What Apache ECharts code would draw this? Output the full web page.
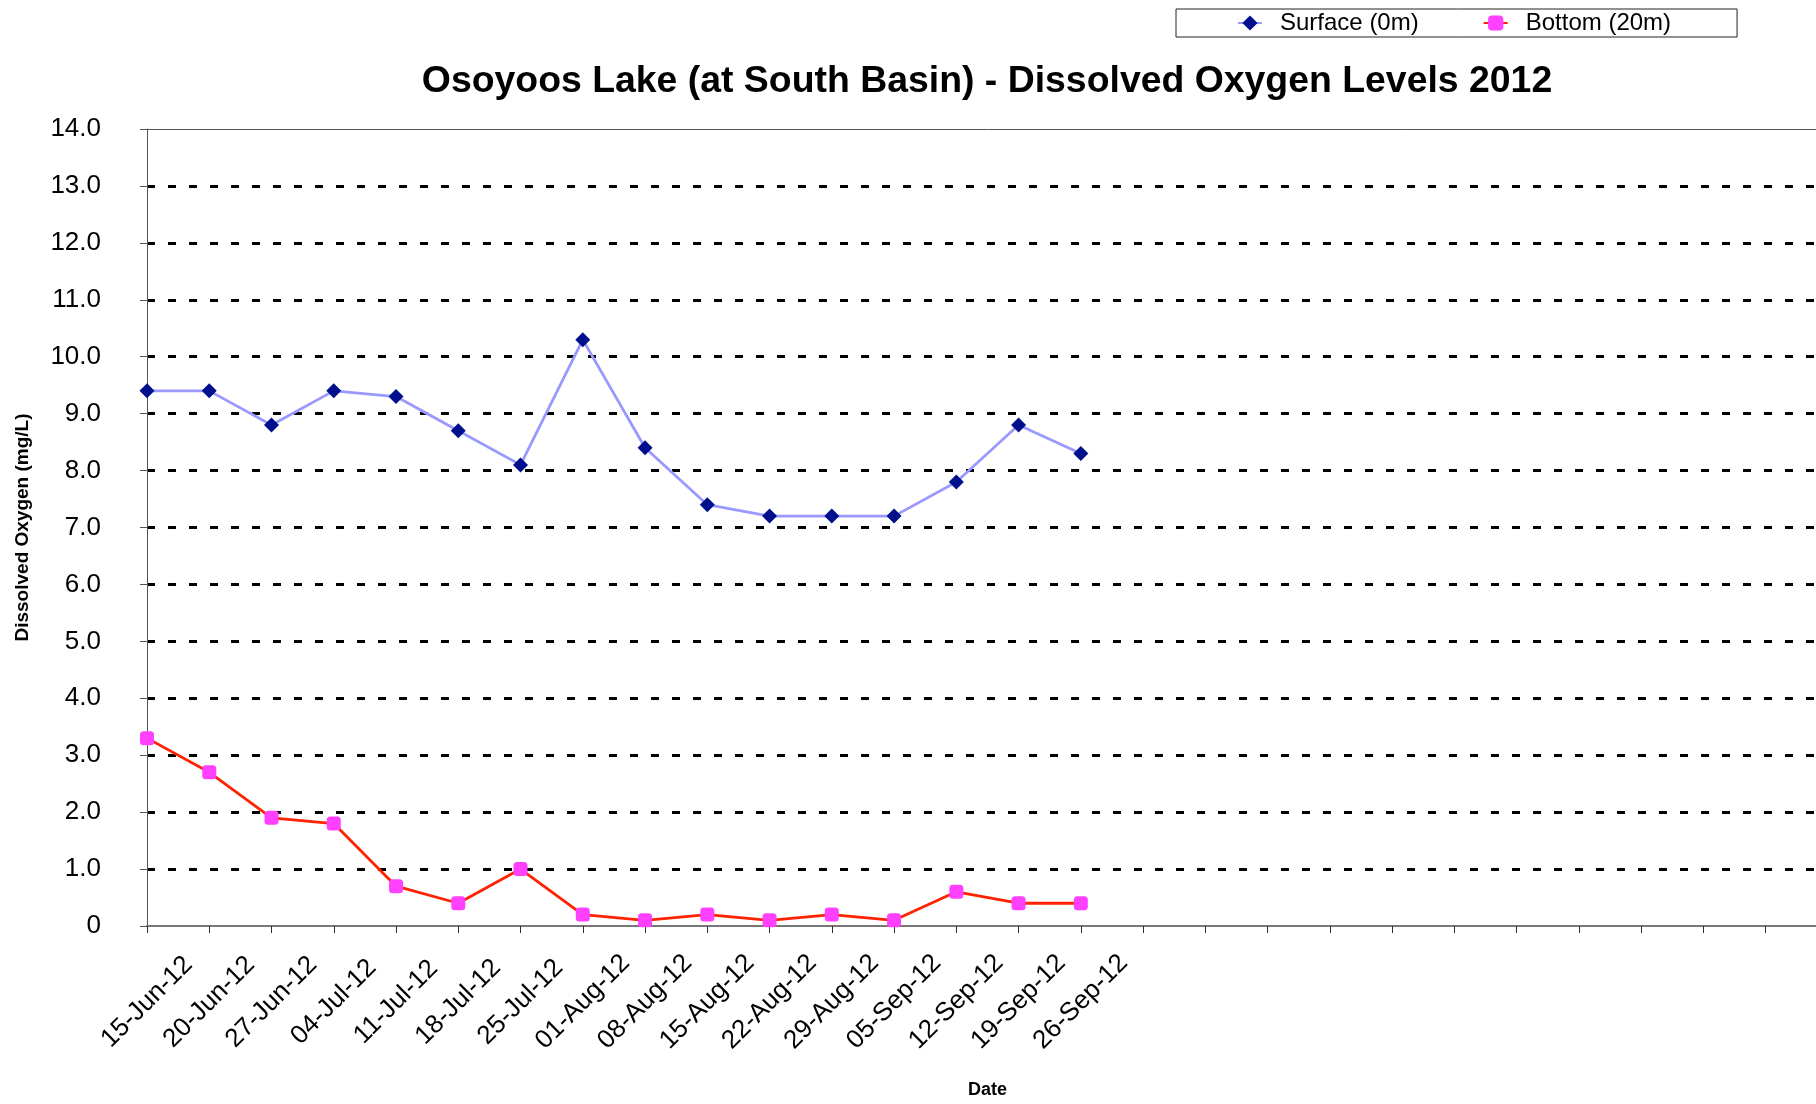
<!DOCTYPE html>
<html>
<head>
<meta charset="utf-8">
<title>Osoyoos Lake - Dissolved Oxygen 2012</title>
<script src="https://cdn.jsdelivr.net/npm/echarts@6/dist/echarts.min.js"></script>
<style>
  html, body { margin: 0; padding: 0; background: #fff; overflow: hidden; }
  /* plot runs past the right edge of the window, like the original */
  #do-chart { width: 1830px; height: 1104px; }
</style>
</head>
<body>
<div id="do-chart"></div>
<script>
  // sampling dates (first 16 carry data), then empty slots to the edge
  var dates = ['15-Jun-12', '20-Jun-12', '27-Jun-12', '04-Jul-12', '11-Jul-12', '18-Jul-12',
    '25-Jul-12', '01-Aug-12', '08-Aug-12', '15-Aug-12', '22-Aug-12', '29-Aug-12',
    '05-Sep-12', '12-Sep-12', '19-Sep-12', '26-Sep-12']
  var emptySlots = 12
  var surfaceDO = [9.4, 9.4, 8.8, 9.4, 9.3, 8.7, 8.1, 10.3, 8.4, 7.4, 7.2, 7.2, 7.2, 7.8, 8.8, 8.3]
  var bottomDO = [3.3, 2.7, 1.9, 1.8, 0.7, 0.4, 1.0, 0.2, 0.1, 0.2, 0.1, 0.2, 0.1, 0.6, 0.4, 0.4]

  var fontName = '"Liberation Sans", Arial, sans-serif'

  var categories = dates.slice()
  for (var i = 0; i < emptySlots; i++) {
    categories.push('')
  }

  var chart = echarts.init(document.getElementById('do-chart'))

  var option = {
    backgroundColor: '#fff',
    animation: false,
    textStyle: { fontFamily: fontName },
    title: {
      text: 'Osoyoos Lake (at South Basin) - Dissolved Oxygen Levels 2012',
      left: 982,
      top: 58,
      textAlign: 'center',
      textStyle: { fontFamily: fontName, fontSize: 37.4, fontWeight: 'bold', color: '#000' }
    },
    legend: {
      left: 1176,
      top: 9,
      padding: [2, 66, 2, 61],
      itemGap: 64,
      itemWidth: 24,
      itemHeight: 19,
      borderColor: '#222',
      borderWidth: 1,
      textStyle: { fontFamily: fontName, fontSize: 24, color: '#000', padding: [0, 0, 0, 13] },
      data: ['Surface (0m)', 'Bottom (20m)']
    },
    grid: {
      left: 147,
      right: 2,
      top: 129,
      bottom: 175
    },
    xAxis: [
      {
        type: 'category',
        data: categories,
        boundaryGap: false,
        name: 'Date',
        nameLocation: 'middle',
        nameGap: 155,
        nameTextStyle: { fontFamily: fontName, fontSize: 18, fontWeight: 'bold', color: '#000' },
        axisLine: { lineStyle: { color: '#777', width: 2 } },
        axisTick: { show: true, interval: 0, length: 7, lineStyle: { color: '#333' } },
        axisLabel: {
          interval: 0,
          rotate: 45,
          align: 'center',
          verticalAlign: 'middle',
          margin: 76,
          fontSize: 26,
          color: '#000',
          fontFamily: fontName
        },
        splitLine: { show: false }
      },
      {
        // plain top border of the plot area
        type: 'category',
        position: 'top',
        data: categories,
        boundaryGap: false,
        axisLine: { lineStyle: { color: '#555', width: 1 } },
        axisTick: { show: false },
        axisLabel: { show: false },
        splitLine: { show: false }
      }
    ],
    yAxis: {
      type: 'value',
      min: 0,
      max: 14,
      interval: 1,
      name: 'Dissolved Oxygen (mg/L)',
      nameLocation: 'middle',
      nameGap: 115,
      nameTextStyle: { fontFamily: fontName, fontSize: 19, fontWeight: 'bold', color: '#000' },
      axisLine: { show: true, lineStyle: { color: '#555', width: 1 } },
      axisTick: { show: true, length: 7, lineStyle: { color: '#555' } },
      axisLabel: {
        margin: 46,
        fontSize: 26,
        color: '#000',
        fontFamily: fontName,
        formatter: function (v) { return v === 0 ? '0' : v.toFixed(1) }
      },
      splitLine: {
        show: true,
        showMinLine: false,
        showMaxLine: false,
        lineStyle: { color: '#000', width: 3, type: [8, 13] }
      }
    },
    series: [
      {
        name: 'Surface (0m)',
        type: 'line',
        data: surfaceDO,
        symbol: 'diamond',
        symbolSize: 15,
        lineStyle: { color: '#9999FF', width: 2.8 },
        itemStyle: { color: '#000F8C' },
        z: 3
      },
      {
        name: 'Bottom (20m)',
        type: 'line',
        data: bottomDO,
        symbol: 'roundRect',
        symbolSize: 14,
        lineStyle: { color: '#FF2200', width: 2.8 },
        itemStyle: { color: '#FF40FF' },
        z: 3
      }
    ]
  }

  chart.setOption(option)
  window.addEventListener('resize', function () { chart.resize() })
</script>
</body>
</html>
